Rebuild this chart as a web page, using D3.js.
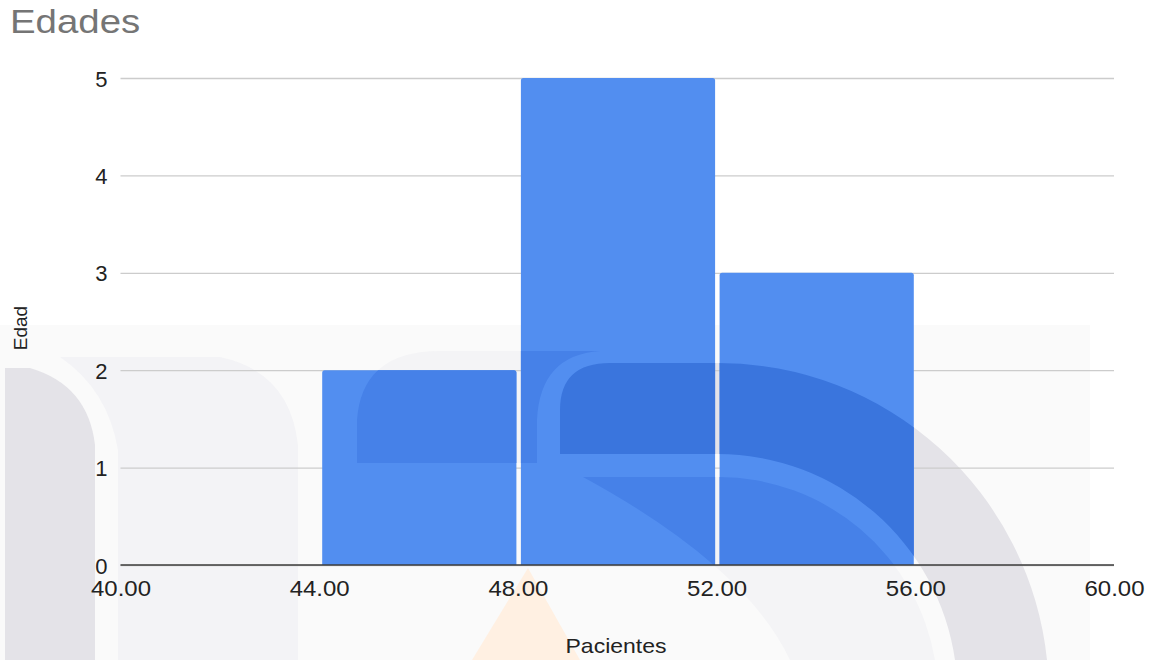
<!DOCTYPE html>
<html>
<head>
<meta charset="utf-8">
<script src="https://cdn.jsdelivr.net/npm/d3@7"></script>
<style>
  html, body { margin: 0; padding: 0; background: #ffffff; }
  svg { display: block; font-family: "Liberation Sans", Arial, sans-serif; }
</style>
</head>
<body>
<svg id="chart" width="1155" height="660"></svg>
<script>
// Histogram data: age bins and number of patients in each
const binStarts = [44, 48, 52];
const binEnds   = [48, 52, 56];
const counts    = [2, 5, 3];
const xTickValues = [40, 44, 48, 52, 56, 60];
const yTickValues = [0, 1, 2, 3, 4, 5];

const titleText = "Edades";
const xTitle = "Pacientes";
const yTitle = "Edad";

const W = 1155, H = 660;
const plot = { left: 120.5, right: 1114, top: 78, bottom: 565 };

const svg = d3.select("#chart");

const x = d3.scaleLinear().domain([40, 60]).range([plot.left, plot.right]);
const y = d3.scaleLinear().domain([0, 5]).range([plot.bottom, plot.top]);

// ---- faint background emblem (drawn beneath the chart) ----
const emblem = svg.append("g").attr("class", "emblem");
emblem.append("rect").attr("x", 0).attr("y", 325).attr("width", 1090).attr("height", H - 325)
  .attr("fill", "#fafafa");

const shapeLeftLeg  = "M5,660 V368 H30 Q88,385 95,445 V660 Z";
const shapeLeftArch = "M118,660 V450 Q108,390 60,357 H220 Q290,372 298,445 V660 Z";
const shapeUpper    = "M357,463 V420 Q362,351 440,351 H600 Q540,355 537,420 V463 Z";
const shapeRing     = "M560,454 V410 Q560,363 610,363 H718 A331,331 0 0 1 1047,660 H955 A240,240 0 0 0 718,454 Z";
const shapeInner    = "M583,477 H718 A220,220 0 0 1 935,660 H790 Q745,565 583,477 Z";
const shapeFlame    = "M528,568 L472,660 H580 Z";

emblem.append("path").attr("d", shapeLeftLeg).attr("fill", "#e4e3e8");
emblem.append("path").attr("d", shapeLeftArch).attr("fill", "#f3f3f6");
emblem.append("path").attr("d", shapeUpper).attr("fill", "#f4f4f6");
emblem.append("path").attr("d", shapeInner).attr("fill", "#f4f4f6");
emblem.append("path").attr("d", shapeRing).attr("fill", "#e4e3e8");
emblem.append("path").attr("d", shapeFlame).attr("fill", "#fff0e2");

// ---- gridlines and y axis ----
const yAxis = d3.axisLeft(y)
  .tickValues(yTickValues)
  .tickSize(-(plot.right - plot.left))
  .tickFormat(d3.format("d"));

const gy = svg.append("g")
  .attr("transform", `translate(${plot.left},0)`)
  .call(yAxis);
gy.select(".domain").remove();
gy.selectAll(".tick line").attr("stroke", "#cccccc").attr("stroke-width", 1.3);
gy.selectAll(".tick text")
  .attr("x", -13).attr("dy", 0).attr("y", 8)
  .attr("fill", "#222222")
  .style("font-size", "22px")
  .style("font-family", "'Liberation Sans', Arial, sans-serif");

// ---- bars ----
const bins = binStarts.map((s, i) => ({ start: s, end: binEnds[i], count: counts[i] }));

function topRoundedRect(x0, x1, y0, y1, r) {
  return `M${x0},${y1} V${y0 + r} Q${x0},${y0} ${x0 + r},${y0} H${x1 - r} Q${x1},${y0} ${x1},${y0 + r} V${y1} Z`;
}

const barPath = d => topRoundedRect(x(d.start) + 3, x(d.end) - 1.5, y(d.count), y(0), 2.5);

svg.append("g").selectAll("path.bar")
  .data(bins)
  .join("path")
  .attr("class", "bar")
  .attr("d", barPath)
  .attr("fill", "#528ef0");

// emblem tint showing through the bars
const clip = svg.append("defs").append("clipPath").attr("id", "barsClip");
clip.selectAll("path").data(bins).join("path").attr("d", barPath);

const tint = svg.append("g").attr("clip-path", "url(#barsClip)");
tint.append("path").attr("d", shapeUpper).attr("fill", "#4681e8");
tint.append("path").attr("d", shapeInner).attr("fill", "#4681e8");
tint.append("path").attr("d", shapeRing).attr("fill", "#3a75dd");

// ---- x axis ----
const xAxis = d3.axisBottom(x)
  .tickValues(xTickValues)
  .tickSize(0)
  .tickFormat(d3.format(".2f"));

const gx = svg.append("g")
  .attr("transform", `translate(0,${plot.bottom})`)
  .call(xAxis);
gx.select(".domain").remove();
gx.selectAll(".tick text")
  .attr("y", 31).attr("dy", 0)
  .attr("transform", "scale(1.09,1)")
  .attr("fill", "#222222")
  .style("font-size", "22px")
  .style("font-family", "'Liberation Sans', Arial, sans-serif");

// baseline
svg.append("line")
  .attr("x1", plot.left).attr("x2", plot.right)
  .attr("y1", y(0)).attr("y2", y(0))
  .attr("stroke", "#3c3c3c").attr("stroke-width", 1.6);

// ---- titles ----
svg.append("text")
  .attr("transform", "translate(10,33) scale(1.13,1)")
  .attr("fill", "#757575")
  .style("font-size", "34px")
  .text(titleText);

svg.append("text")
  .attr("transform", "translate(616,653) scale(1.15,1)")
  .attr("text-anchor", "middle")
  .attr("fill", "#222222")
  .style("font-size", "20px")
  .text(xTitle);

svg.append("text")
  .attr("transform", "translate(27,328) rotate(-90)")
  .attr("text-anchor", "middle")
  .attr("fill", "#222222")
  .style("font-size", "19px")
  .text(yTitle);
</script>
</body>
</html>
